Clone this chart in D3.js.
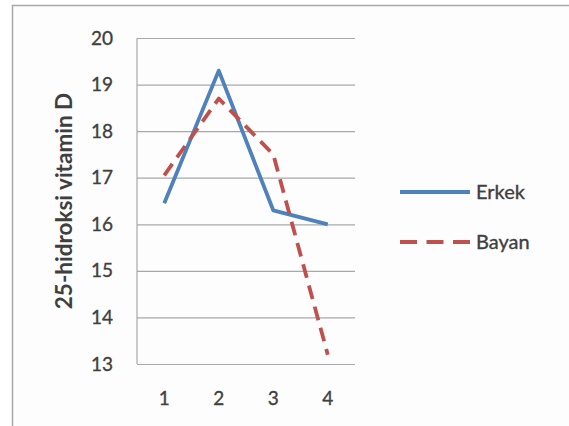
<!DOCTYPE html>
<html>
<head>
<meta charset="utf-8">
<script src="https://cdn.jsdelivr.net/npm/d3@7"></script>
<style>
  html, body { margin: 0; padding: 0; background: #ffffff; }
  svg { display: block; }
  text { font-family: Lato, "Open Sans", sans-serif; fill: #3f3f3f; }
</style>
</head>
<body>
<svg id="chart" width="569" height="426"></svg>
<script>
// Data
const categories = ["1", "2", "3", "4"];
const erkek = [16.45, 19.3, 16.3, 16.0];
const bayan = [17.05, 18.7, 17.5, 13.2];
const yTicks = [13, 14, 15, 16, 17, 18, 19, 20];
const seriesNames = ["Erkek", "Bayan"];
const seriesColors = ["#4f81bd", "#c0504d"];
const yTitle = "25-hidroksi vitamin D";

const svg = d3.select("#chart");

// Chart frame
svg.append("rect")
  .attr("x", 12.5).attr("y", 5.5)
  .attr("width", 600).attr("height", 500)
  .attr("fill", "#fdfdfd")
  .attr("stroke", "#a9a9a9").attr("stroke-width", 1.5);

const plot = { left: 137, right: 355, top: 38, bottom: 364 };

const x = d3.scaleBand().domain(categories).range([plot.left, plot.right]);
const y = d3.scaleLinear().domain([13, 20]).range([plot.bottom, plot.top]);

const labelStyle = sel => sel
  .attr("font-size", 19)
  .attr("fill", "#404040")
  .attr("stroke", "#404040").attr("stroke-width", 0.35)
  .attr("font-family", "Lato, sans-serif");

// Horizontal gridlines and value labels
const yAxis = d3.axisLeft(y).tickValues(yTicks).tickSize(-(plot.right - plot.left)).tickPadding(24).tickFormat(d3.format("d"));
const gy = svg.append("g").attr("transform", `translate(${plot.left},0)`).call(yAxis);
gy.select(".domain").remove();
gy.selectAll(".tick line").attr("stroke", "#a8a8a8").attr("stroke-width", 1.2);
gy.selectAll(".tick text").call(labelStyle);

// Vertical axis line
svg.append("line")
  .attr("x1", plot.left).attr("x2", plot.left)
  .attr("y1", plot.top).attr("y2", plot.bottom)
  .attr("stroke", "#a8a8a8").attr("stroke-width", 1.2);

// Category labels
const xAxis = d3.axisBottom(x).tickSize(0).tickPadding(28);
const gx = svg.append("g").attr("transform", `translate(0,${plot.bottom})`).call(xAxis);
gx.select(".domain").remove();
gx.selectAll(".tick text").call(labelStyle);

// Y axis title
svg.append("text")
  .attr("transform", `translate(72,${(plot.top + plot.bottom) / 2}) rotate(-90)`)
  .attr("text-anchor", "middle")
  .attr("font-size", 22.5).attr("font-weight", "bold")
  .attr("fill", "#262626")
  .text(yTitle);

// Lines
const line = d3.line()
  .x((d, i) => x(categories[i]) + x.bandwidth() / 2)
  .y(d => y(d));

svg.append("path").datum(erkek)
  .attr("d", line).attr("fill", "none")
  .attr("stroke", seriesColors[0]).attr("stroke-width", 3.8)
  .attr("stroke-linejoin", "round");

svg.append("path").datum(bayan)
  .attr("d", line).attr("fill", "none")
  .attr("stroke", seriesColors[1]).attr("stroke-width", 3.8)
  .attr("stroke-dasharray", "14,8")
  .attr("stroke-linejoin", "round");

// Legend
const legend = svg.append("g");
const legendY = [192, 242];
seriesNames.forEach((name, i) => {
  legend.append("line")
    .attr("x1", 400).attr("x2", 470)
    .attr("y1", legendY[i]).attr("y2", legendY[i])
    .attr("stroke", seriesColors[i]).attr("stroke-width", 3.8)
    .attr("stroke-dasharray", i === 1 ? "17,9.5" : null);
  legend.append("text")
    .attr("x", 476).attr("y", legendY[i])
    .attr("dy", "0.35em")
    .call(labelStyle)
    .attr("font-size", 20)
    .text(name);
});
</script>
</body>
</html>
